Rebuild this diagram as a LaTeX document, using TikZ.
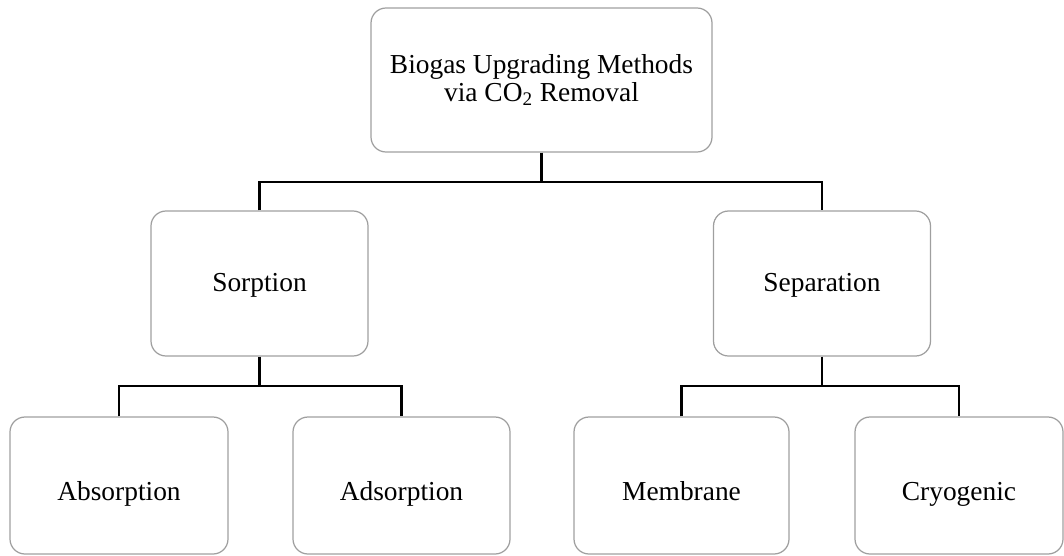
\documentclass[tikz,border=0pt]{standalone}
\usepackage{fontspec}
\setmainfont{Liberation Serif}
\usepackage{tikz}

\tikzset{
	box/.style={draw=gray!75,line width=0.7pt,rounded corners=0.3cm,align=center,
		font=\fontsize{15.6}{16}\selectfont,inner sep=0pt},
	leaf/.style={box,text height=1.6ex+0.16cm,text depth=0.5ex},
	lowleaf/.style={box,text height=1.6ex+0.44cm,text depth=0.5ex},
	link/.style={line width=1.4pt,black}
}

\begin{document}
\begin{tikzpicture}
		\useasboundingbox (0,0) rectangle (21.28,11.10);

		\node [box,minimum width=6.82cm,minimum height=2.88cm] (top) at (10.83,9.50) {Biogas Upgrading Methods\\via CO\textsubscript{2} Removal};

		\node [leaf,minimum width=4.34cm,minimum height=2.90cm] (sorp) at (5.19,5.43) {Sorption};
		\node [leaf,minimum width=4.34cm,minimum height=2.90cm] (sepa) at (16.44,5.43) {Separation};

		\node [lowleaf,minimum width=4.36cm,minimum height=2.74cm] (absorp) at (2.38,1.39) {Absorption};
		\node [lowleaf,minimum width=4.34cm,minimum height=2.74cm] (adsorp) at (8.03,1.39) {Adsorption};
		\node [lowleaf,minimum width=4.30cm,minimum height=2.74cm] (memb) at (13.63,1.39) {Membrane};
		\node [lowleaf,minimum width=4.16cm,minimum height=2.74cm] (cryo) at (19.18,1.39) {Cryogenic};

		\coordinate (hubA) at (10.83,7.46); % top split
		\coordinate (hubB) at (5.19,3.38); % sorption split
		\coordinate (hubC) at (16.44,3.38); % separation split

		\draw [link] (top.south) -- (hubA);
		\draw [link] (sorp.north) |- (hubA) -| (sepa.north);

		\draw [link] (sorp.south) -- (hubB);
		\draw [link] (absorp.north) |- (hubB) -| (adsorp.north);

		\draw [link] (sepa.south) -- (hubC);
		\draw [link] (memb.north) |- (hubC) -| (cryo.north);

		\end{tikzpicture}
\end{document}
